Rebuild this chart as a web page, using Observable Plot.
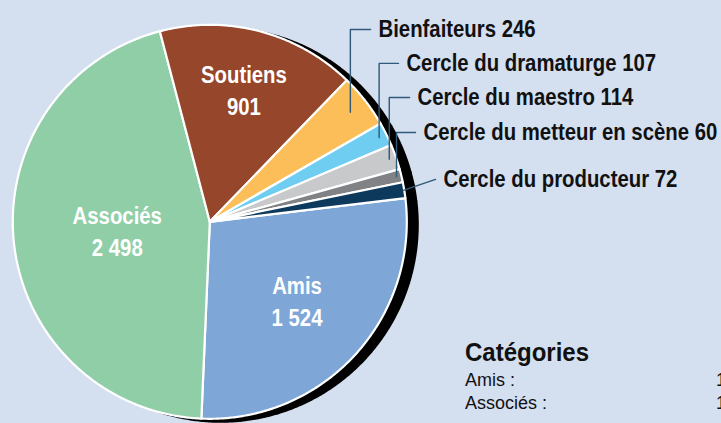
<!DOCTYPE html>
<html><head><meta charset="utf-8">
<script src="https://cdn.jsdelivr.net/npm/d3@7"></script>
<script src="https://cdn.jsdelivr.net/npm/@observablehq/plot@0.6"></script>
<style>
html,body{margin:0;padding:0;background:#d4dff0;overflow:hidden;width:721px;height:423px;}
#chart{position:relative;width:721px;height:423px;overflow:hidden;}
.cf{font-family:"Liberation Sans",Arial,sans-serif;}
#legend{position:absolute;left:465px;top:340px;width:300px;color:#111;}
#legend .t{font-size:25px;font-weight:bold;line-height:25px;height:29.2px;display:inline-block;transform-origin:0 0;transform:scaleX(0.96);}
#legend .r{font-size:18px;line-height:22.5px;position:relative;white-space:nowrap;}
#legend .r span{position:absolute;left:251px;top:0;}
</style></head><body><div id="chart"></div>
<script>
// ---- data ----
const categories = ["Amis","Associés","Soutiens","Bienfaiteurs","Cercle du dramaturge","Cercle du maestro","Cercle du metteur en scène","Cercle du producteur"];
const values = [1524, 2498, 901, 246, 107, 114, 60, 72];
const valueLabels = ["1 524", "2 498", "901", "246", "107", "114", "60", "72"];
const legendTitle = "Catégories";
const legendRows = ["Amis :", "Associés :"];
const legendValues = ["1", "1"];

// ---- styles / layout ----
const colors = ["#7ea6d7","#90cea8","#96462a","#fbbe58","#70cdf2","#c8c9cb","#808285","#0d3a5c"];
const FONT = '"Liberation Sans",Arial,sans-serif';
const SQUEEZE = 0.83;                  // condensed look
const FS = 24.5;
const START = -6.9 * Math.PI / 180;   // clockwise from east
const R = 197 / 198;
const insideR = {"Amis": 0.6, "Associés": 0.47, "Soutiens": 0.68};
const outside = {
  "Bienfaiteurs":               {r: 0.90, tx: 0.852, ty: 0.971, elbow: true},
  "Cercle du dramaturge":       {r: 0.955, tx: 0.993, ty: 0.800, elbow: true},
  "Cercle du maestro":          {r: 0.96, tx: 1.049, ty: 0.628, elbow: true},
  "Cercle du metteur en scène": {r: 0.97, tx: 1.079, ty: 0.451, elbow: true},
  "Cercle du producteur":       {r: 0.99, tx: 1.180, ty: 0.214, elbow: false}
};
const GAP = 0.04;

const total = d3.sum(values);
let acc = START;
const slices = categories.map((c, i) => {
  const a0 = acc, a1 = acc + values[i] / total * 2 * Math.PI;
  acc = a1;
  return {c, i, a0, a1, mid: (a0 + a1) / 2};
});
const pt = (a, r) => [r * Math.cos(a), -r * Math.sin(a)];

const polys = slices.flatMap(s => {
  const n = Math.max(2, Math.ceil((s.a1 - s.a0) / (Math.PI / 360)));
  const pts = [{x: 0, y: 0, c: s.c}];
  for (let k = 0; k <= n; k++) {
    const [x, y] = pt(s.a0 + (s.a1 - s.a0) * k / n, R);
    pts.push({x, y, c: s.c});
  }
  return pts;
});

const insideLabels = slices.filter(s => insideR[s.c] != null).map(s => {
  const [x, y] = pt(s.mid, insideR[s.c]);
  return {x, y, name: s.c, value: valueLabels[s.i]};
});

const leaderPts = [];
const outsideLabels = [];
slices.filter(s => outside[s.c]).forEach(s => {
  const L = outside[s.c];
  const [ex, ey] = pt(s.mid, L.r);
  leaderPts.push({x: ex, y: ey, c: s.c});
  if (L.elbow) leaderPts.push({x: ex, y: L.ty, c: s.c});
  leaderPts.push({x: L.tx - GAP, y: L.ty, c: s.c});
  outsideLabels.push({x: L.tx, y: L.ty, text: s.c + " " + valueLabels[s.i]});
});

const plot = Plot.plot({
  width: 721, height: 423,
  marginLeft: 11.3, marginRight: 721 - 407.3, marginTop: 23.3, marginBottom: 423 - 419.3,
  x: {domain: [-1, 1], axis: null},
  y: {domain: [-1, 1], axis: null},
  color: {domain: categories, range: colors},
  style: {background: "transparent", fontFamily: FONT, overflow: "visible"},
  marks: [
    Plot.line(polys, {x: "x", y: "y", z: "c", fill: "black", stroke: "black", strokeWidth: 2, dx: 11, dy: 3, curve: "linear-closed"}),
    Plot.line(polys, {x: "x", y: "y", z: "c", fill: "c", stroke: "white", strokeWidth: 2.2, strokeLinejoin: "round", curve: "linear-closed"}),
    Plot.line(leaderPts, {x: "x", y: "y", z: "c", stroke: "#2f5a78", strokeWidth: 1.4}),
    Plot.text(insideLabels, {x: "x", y: "y", text: "name", dy: -16, fill: "white", fontSize: FS, fontWeight: "bold"}),
    Plot.text(insideLabels, {x: "x", y: "y", text: "value", dy: 16, fill: "white", fontSize: FS, fontWeight: "bold"}),
    Plot.text(outsideLabels, {x: "x", y: "y", text: "text", fill: "#111", fontSize: FS, fontWeight: "bold", textAnchor: "start"})
  ]
});
const chart = document.getElementById("chart");
chart.appendChild(plot);
plot.querySelectorAll("text").forEach(el => {
  const w = el.getComputedTextLength();
  el.setAttribute("textLength", w * SQUEEZE);
  el.setAttribute("lengthAdjust", "spacingAndGlyphs");
});

const leg = document.createElement("div");
leg.id = "legend"; leg.className = "cf";
const t = document.createElement("div"); t.className = "t"; t.textContent = legendTitle; leg.appendChild(t);
legendRows.forEach((r, i) => {
  const d = document.createElement("div"); d.className = "r"; d.textContent = r;
  const v = document.createElement("span"); v.textContent = legendValues[i]; d.appendChild(v);
  leg.appendChild(d);
});
chart.appendChild(leg);
</script></body></html>
